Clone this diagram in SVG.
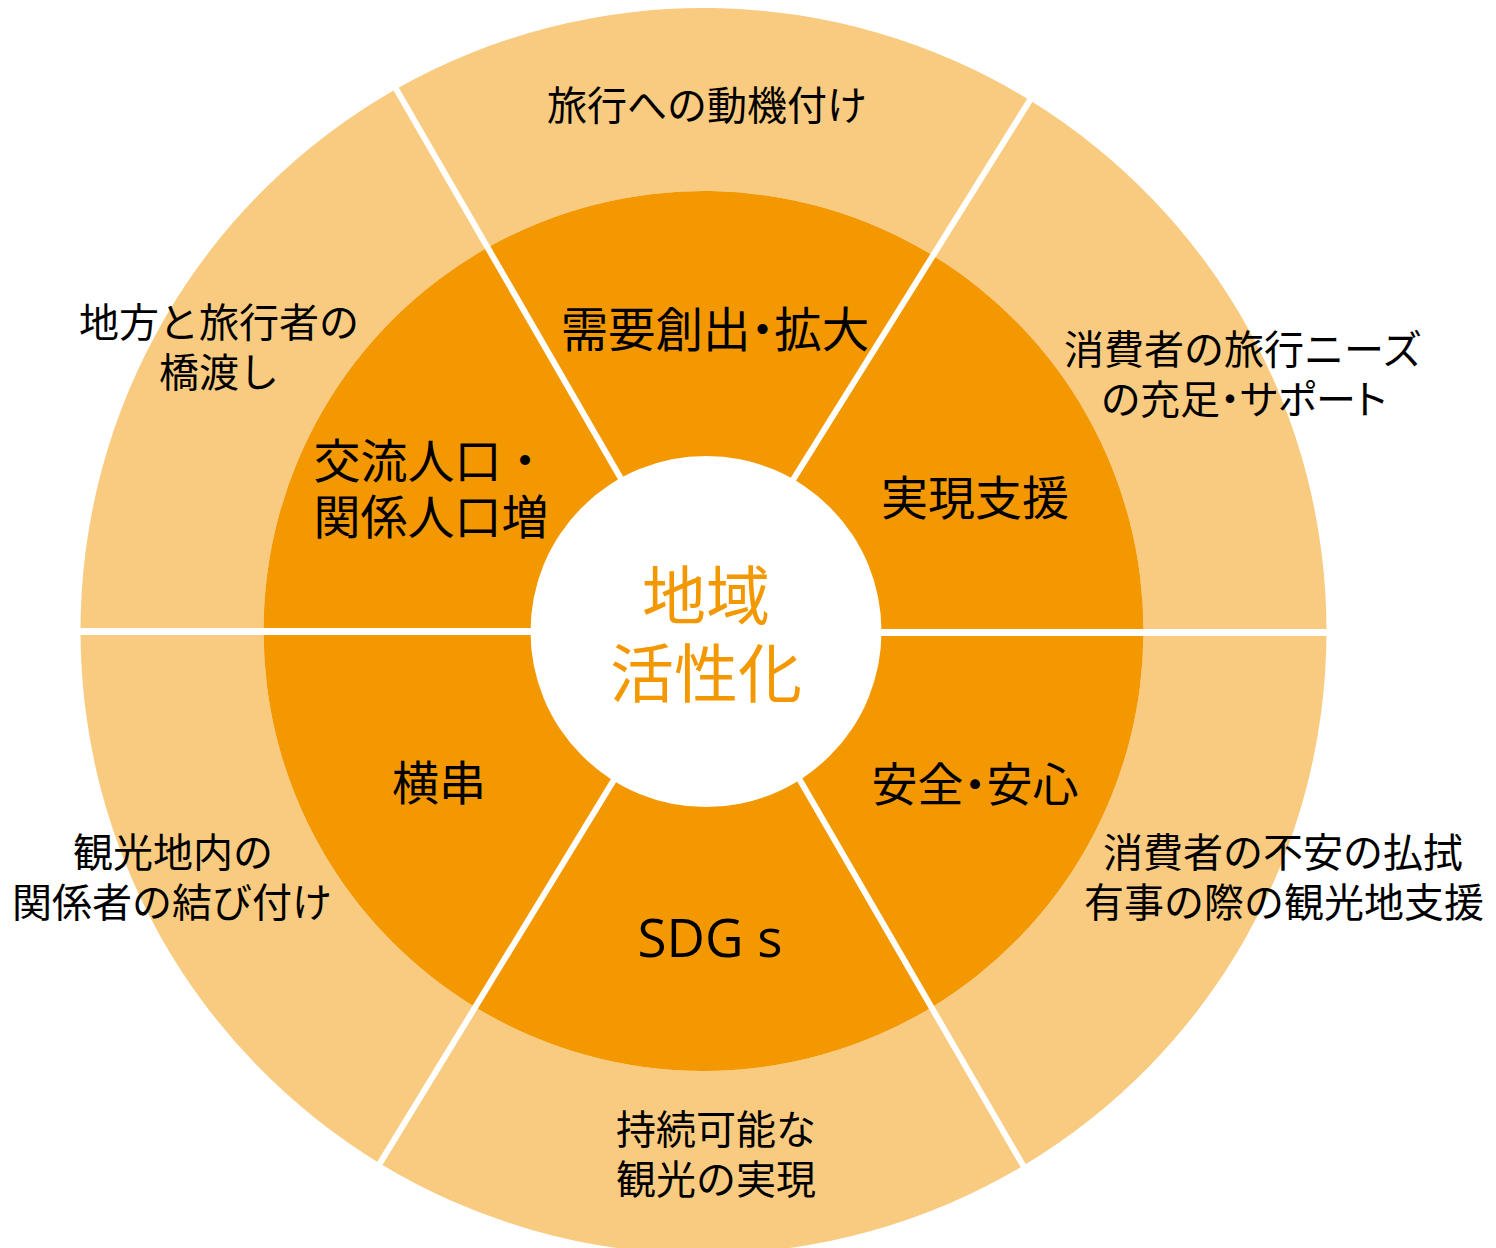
<svg xmlns="http://www.w3.org/2000/svg" width="1496" height="1248" viewBox="0 0 1496 1248">
  <style>
    .outer { fill: #F8CB80; }
    .inner { fill: #F39800; }
    .sep { stroke: #FFFFFF; stroke-width: 6; fill: none; }
    .sepH { stroke: #FFFFFF; stroke-width: 7; fill: none; }
    .t { font-family: "Noto Sans CJK JP", "Noto Sans", sans-serif; fill: #000000; text-anchor: middle; }
    .to { font-size: 40px; }
    .ti { font-size: 46px; }
    .tc { font-size: 64px; fill: #F39800; }
    .palt { font-feature-settings: "palt" 1; }
    .lat { font-family: "Open Sans", "Noto Sans", sans-serif; font-size: 53px; fill: #000000; text-anchor: middle; }
  </style>
  <rect width="1496" height="1248" fill="#FFFFFF"/>

  <!-- Outer ring nodes -->
  <g id="outer-top">
    <path class="outer" d="M396.2,89.1 A623,623 0 0 1 1029.8,100.3 L932.9,255.6 A440,440 0 0 0 487.6,247.6 Z"/>
    <text class="t to" x="707" y="120">旅行への動機付け</text>
  </g>
  <g id="outer-upper-right">
    <path class="outer" d="M1029.8,100.3 A623,623 0 0 1 1326.5,632.5 L1143.5,632.5 A440,440 0 0 0 932.9,255.6 Z"/>
    <text class="t to" x="1243" y="364">消費者の旅行ニーズ</text>
    <text class="t to palt" x="1244" y="414">の充足・サポート</text>
  </g>
  <g id="outer-lower-right">
    <path class="outer" d="M1326.5,632.5 A623,623 0 0 1 1023.2,1165.7 L931.5,1007.4 A440,440 0 0 0 1143.5,632.5 Z"/>
    <text class="t to" x="1283" y="867">消費者の不安の払拭</text>
    <text class="t to" x="1284" y="917">有事の際の観光地支援</text>
  </g>
  <g id="outer-bottom">
    <path class="outer" d="M1023.2,1165.7 A623,623 0 0 1 379.9,1163.4 L475.3,1007.2 A440,440 0 0 0 931.5,1007.4 Z"/>
    <text class="t to" x="716" y="1144">持続可能な</text>
    <text class="t to" x="716" y="1194">観光の実現</text>
  </g>
  <g id="outer-lower-left">
    <path class="outer" d="M379.9,1163.4 A623,623 0 0 1 80.5,631.5 L263.5,631.5 A440,440 0 0 0 475.3,1007.2 Z"/>
    <text class="t to" x="173" y="867">観光地内の</text>
    <text class="t to" x="172" y="917">関係者の結び付け</text>
  </g>
  <g id="outer-upper-left">
    <path class="outer" d="M80.5,631.5 A623,623 0 0 1 396.2,89.1 L487.6,247.6 A440,440 0 0 0 263.5,631.5 Z"/>
    <text class="t to" x="219" y="337">地方と旅行者の</text>
    <text class="t to" x="219" y="387">橋渡し</text>
  </g>

  <!-- Inner ring nodes -->
  <g id="inner-top">
    <path class="inner" d="M487.6,247.6 A440,440 0 0 1 932.9,255.6 L790.0,484.6 A170,170 0 0 0 622.6,481.5 Z"/>
    <text class="t ti palt" x="715" y="347" style="font-size:47.5px">需要創出・拡大</text>
  </g>
  <g id="inner-upper-right">
    <path class="inner" d="M932.9,255.6 A440,440 0 0 1 1143.5,632.5 L873.5,632.5 A170,170 0 0 0 790.0,484.6 Z"/>
    <text class="t ti" x="975" y="515" style="font-size:47px">実現支援</text>
  </g>
  <g id="inner-lower-right">
    <path class="inner" d="M1143.5,632.5 A440,440 0 0 1 931.5,1007.4 L796.1,773.5 A170,170 0 0 0 873.5,632.5 Z"/>
    <text class="t ti palt" x="975" y="801" style="font-size:46px">安全・安心</text>
  </g>
  <g id="inner-bottom">
    <path class="inner" d="M931.5,1007.4 A440,440 0 0 1 475.3,1007.2 L615.9,776.6 A170,170 0 0 0 796.1,773.5 Z"/>
    <text class="lat" x="710" y="957">SDG s</text>
  </g>
  <g id="inner-lower-left">
    <path class="inner" d="M475.3,1007.2 A440,440 0 0 1 263.5,631.5 L533.5,631.5 A170,170 0 0 0 615.9,776.6 Z"/>
    <text class="t ti" x="439" y="800" style="font-size:47px">横串</text>
  </g>
  <g id="inner-upper-left">
    <path class="inner" d="M263.5,631.5 A440,440 0 0 1 487.6,247.6 L622.6,481.5 A170,170 0 0 0 533.5,631.5 Z"/>
    <text class="t ti" x="431" y="478" style="font-size:47px">交流人口・</text>
    <text class="t ti" x="431" y="534" style="font-size:47px">関係人口増</text>
  </g>

  <!-- Separators -->
  <g id="connectors">
    <line class="sep" x1="390.2" y1="78.7" x2="622.6" y2="481.5"/>
    <line class="sep" x1="1036.2" y1="90.1" x2="790.0" y2="484.6"/>
    <line class="sep" x1="1029.2" y1="1176.1" x2="796.1" y2="773.5"/>
    <line class="sep" x1="373.6" y1="1173.6" x2="615.9" y2="776.6"/>
    <line class="sepH" x1="70" y1="631.5" x2="540" y2="631.5"/>
    <line class="sepH" x1="866" y1="632.5" x2="1337" y2="632.5"/>
  </g>

  <!-- Center node -->
  <g id="center">
    <circle cx="706" cy="631.5" r="175.5" fill="#FFFFFF"/>
    <text class="t tc" x="706" y="619">地域</text>
    <text class="t tc" x="706" y="697">活性化</text>
  </g>
</svg>
